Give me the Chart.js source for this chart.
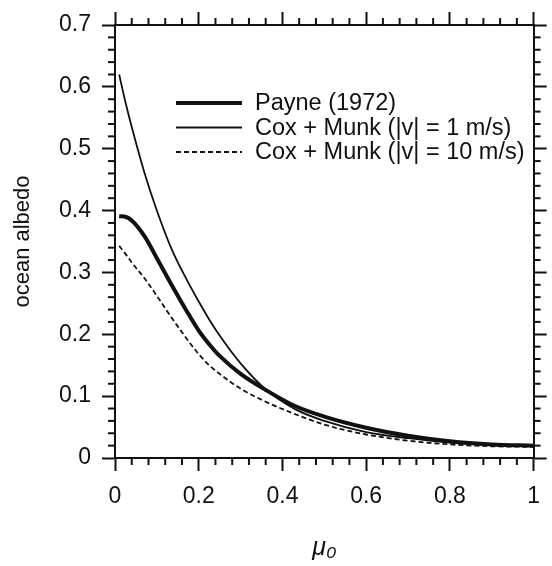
<!DOCTYPE html>
<html>
<head>
<meta charset="utf-8">
<script src="https://cdn.jsdelivr.net/npm/chart.js@4.4.1/dist/chart.umd.min.js"></script>
<style>
  html, body { margin: 0; padding: 0; background: #fff; }
  #wrap { position: relative; width: 552px; height: 566px; }
</style>
</head>
<body>
<div id="wrap"><canvas id="albedo" width="552" height="566"></canvas></div>
<script>
// cosine of solar zenith angle
const mu = [0.01, 0.025, 0.04, 0.07, 0.1, 0.135, 0.17, 0.2, 0.225, 0.25, 0.3, 0.36, 0.43, 0.5, 0.6, 0.7, 0.8, 0.9, 1.0];

// ocean albedo
const payne = [0.391, 0.39, 0.384, 0.359, 0.323, 0.28, 0.239, 0.206, 0.184, 0.165, 0.136, 0.11, 0.084, 0.067, 0.049, 0.036, 0.027, 0.022, 0.02];
const coxMunk1 = [0.62, 0.575, 0.535, 0.462, 0.40, 0.338, 0.29, 0.253, 0.224, 0.198, 0.153, 0.111, 0.079, 0.06, 0.042, 0.032, 0.025, 0.021, 0.019];
const coxMunk10 = [0.343, 0.33, 0.316, 0.291, 0.262, 0.227, 0.194, 0.168, 0.15, 0.136, 0.112, 0.091, 0.071, 0.054, 0.038, 0.028, 0.022, 0.019, 0.018];

const seriesLabels = ["Payne (1972)", "Cox + Munk (|v| = 1 m/s)", "Cox + Munk (|v| = 10 m/s)"];

const xTicks = [0, 0.2, 0.4, 0.6, 0.8, 1];
const yTicks = [0, 0.1, 0.2, 0.3, 0.4, 0.5, 0.6, 0.7];

const FONT = "'Liberation Sans', Arial, Helvetica, sans-serif";
const INK = "#111";

function points(ys) {
    return mu.map((x, i) => ({ x, y: ys[i] }));
}

function line(label, ys, width, dash) {
    return {
        label,
        data: points(ys),
        borderColor: INK,
        backgroundColor: INK,
        borderWidth: width,
        borderDash: dash,
        pointRadius: 0,
        fill: false,
        cubicInterpolationMode: "monotone",
        borderCapStyle: "butt"
    };
}

// shorter minor ticks, pointing out, on all four sides
const minorTicks = {
    id: "minorTicks",
    afterDraw(chart) {
        const ctx = chart.ctx;
        const area = chart.chartArea;
        ctx.save();
        ctx.strokeStyle = INK;
        ctx.lineWidth = 2;
        const len = 7;
        ["x", "x2"].forEach(id => {
            const s = chart.scales[id];
            for (let k = 0; k <= 25; k++) {
                if (k % 5 === 0) continue;
                const px = s.getPixelForValue(k * 0.04);
                const y0 = id === "x" ? area.bottom : area.top;
                const dir = id === "x" ? 1 : -1;
                ctx.beginPath();
                ctx.moveTo(px, y0);
                ctx.lineTo(px, y0 + dir * len);
                ctx.stroke();
            }
        });
        ["y", "y2"].forEach(id => {
            const s = chart.scales[id];
            for (let k = 0; k <= 35; k++) {
                if (k % 5 === 0) continue;
                const py = s.getPixelForValue(k * 0.02);
                const x0 = id === "y" ? area.left : area.right;
                const dir = id === "y" ? -1 : 1;
                ctx.beginPath();
                ctx.moveTo(x0, py);
                ctx.lineTo(x0 + dir * len, py);
                ctx.stroke();
            }
        });
        ctx.restore();
    }
};

// legend sitting inside the plot, line sample then label
const insideLegend = {
    id: "insideLegend",
    afterDatasetsDraw(chart) {
        const ctx = chart.ctx;
        const x0 = 176, x1 = 242, tx = 255;
        let y = 103;
        ctx.save();
        ctx.font = "23.5px " + FONT;
        ctx.fillStyle = INK;
        ctx.textBaseline = "middle";
        chart.data.datasets.forEach(ds => {
            ctx.strokeStyle = ds.borderColor;
            ctx.lineWidth = ds.borderWidth;
            ctx.setLineDash(ds.borderDash || []);
            ctx.beginPath();
            ctx.moveTo(x0, y);
            ctx.lineTo(x1, y);
            ctx.stroke();
            ctx.setLineDash([]);
            ctx.fillText(ds.label, tx, y + 1);
            y += 24.5;
        });
        ctx.restore();
    }
};

function tickGrid(len) {
    return { drawOnChartArea: false, drawTicks: true, tickLength: len, tickWidth: 2, tickColor: INK };
}
const frame = { display: true, color: INK, width: 2 };
const plain = v => String(Math.round(v * 10) / 10);

new Chart(document.getElementById("albedo"), {
    type: "line",
    data: {
        datasets: [
            line(seriesLabels[0], payne, 4, []),
            line(seriesLabels[1], coxMunk1, 1.8, []),
            line(seriesLabels[2], coxMunk10, 1.8, [5, 3])
        ]
    },
    options: {
        responsive: false,
        animation: false,
        layout: { padding: 0, autoPadding: false },
        plugins: { legend: { display: false }, tooltip: { enabled: false } },
        scales: {
            x: {
                type: "linear", position: "bottom", min: 0, max: 1,
                afterBuildTicks: s => { s.ticks = xTicks.map(v => ({ value: v })); },
                afterFit: s => { s.height = 108; },
                grid: tickGrid(13), border: frame,
                ticks: { color: INK, padding: 12, maxRotation: 0, callback: plain, font: { family: FONT, size: 23 } },
                title: { display: true, text: "μ₀", color: INK, padding: { top: 0, bottom: 3 },
                         font: { family: FONT, size: 25, style: "italic" } }
            },
            x2: {
                type: "linear", position: "top", min: 0, max: 1,
                afterBuildTicks: s => { s.ticks = xTicks.map(v => ({ value: v })); },
                afterFit: s => { s.height = 25; },
                grid: tickGrid(13), border: frame,
                ticks: { display: false }
            },
            y: {
                type: "linear", position: "left", min: 0, max: 0.7,
                afterBuildTicks: s => { s.ticks = yTicks.map(v => ({ value: v })); },
                afterFit: s => { s.width = 115; },
                grid: tickGrid(13), border: frame,
                ticks: { color: INK, padding: 11, callback: plain, font: { family: FONT, size: 23 } },
                title: { display: true, text: "ocean albedo", color: INK, padding: { top: 10, bottom: 0 },
                         font: { family: FONT, size: 22 } }
            },
            y2: {
                type: "linear", position: "right", min: 0, max: 0.7,
                afterBuildTicks: s => { s.ticks = yTicks.map(v => ({ value: v })); },
                afterFit: s => { s.width = 7; },
                grid: tickGrid(13), border: frame,
                ticks: { display: false }
            }
        }
    },
    plugins: [minorTicks, insideLegend]
});
</script>
</body>
</html>
